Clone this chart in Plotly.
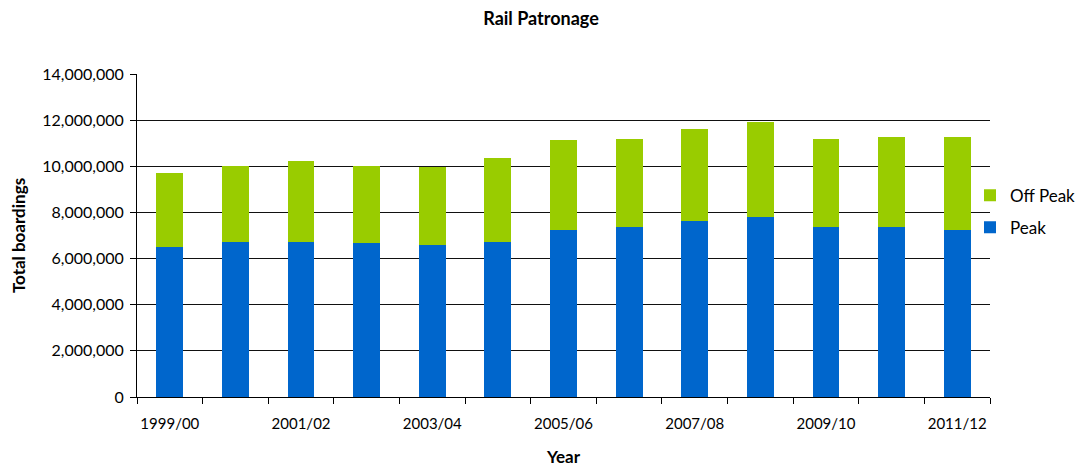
import plotly.graph_objects as go

years = ["1999/00", "2000/01", "2001/02", "2002/03", "2003/04", "2004/05", "2005/06",
         "2006/07", "2007/08", "2008/09", "2009/10", "2010/11", "2011/12"]
peak = [6520000, 6700000, 6740000, 6670000, 6580000, 6700000, 7220000,
        7350000, 7610000, 7820000, 7350000, 7390000, 7260000]
total = [9730000, 10030000, 10210000, 10030000, 9950000, 10340000, 11120000,
         11200000, 11600000, 11900000, 11200000, 11250000, 11290000]
off_peak = [t - p for t, p in zip(total, peak)]
tick_labels = [y if i % 2 == 0 else "" for i, y in enumerate(years)]

font_family = "Lato, 'Open Sans', sans-serif"

fig = go.Figure()
fig.add_trace(go.Bar(x=years, y=peak, name="Peak", legendgroup="peak", legendrank=2,
                     marker=dict(color="#0066CC", line=dict(width=0))))
fig.add_trace(go.Bar(x=years, y=off_peak, name="Off Peak", legendgroup="offpeak", legendrank=1,
                     marker=dict(color="#99CC00", line=dict(width=0))))

fig.update_layout(
    width=1085, height=468,
    barmode="stack", bargap=0.59,
    plot_bgcolor="white", paper_bgcolor="white",
    margin=dict(l=129, r=103, t=66, b=79, autoexpand=False),
    font=dict(family=font_family, size=16, color="#000"),
    title=dict(text="<b>Rail Patronage</b>", x=533 / 1085, xref="container", y=1 - 11 / 468,
               yref="container", yanchor="middle", font=dict(size=18, family=font_family)),
    legend=dict(x=962 / 1085, xref="container", xanchor="left", y=0.574, yanchor="middle",
                traceorder="grouped", font=dict(size=17), itemwidth=30, tracegroupgap=7,
                bgcolor="rgba(0,0,0,0)"),
    xaxis=dict(
        tickmode="array", tickvals=years, ticktext=tick_labels, tickangle=0,
        ticks="outside", tickson="boundaries", ticklen=6, tickcolor="#000",
        showline=True, linecolor="#000", linewidth=1, ticklabelstandoff=13,
        title=dict(text="<b>Year</b>", font=dict(size=17), standoff=20),
        tickfont=dict(size=15), automargin=False,
    ),
    yaxis=dict(
        range=[0, 14000000], dtick=2000000, tickformat=",",
        showgrid=True, gridcolor="#111", gridwidth=1,
        ticks="outside", ticklen=6, tickcolor="#000",
        showline=True, linecolor="#000", linewidth=1, ticklabelstandoff=3,
        zeroline=False,
        title=dict(text="<b>Total boardings</b>", font=dict(size=17), standoff=20),
        tickfont=dict(size=16), automargin=False,
    ),
)

fig.write_html("out.html")
